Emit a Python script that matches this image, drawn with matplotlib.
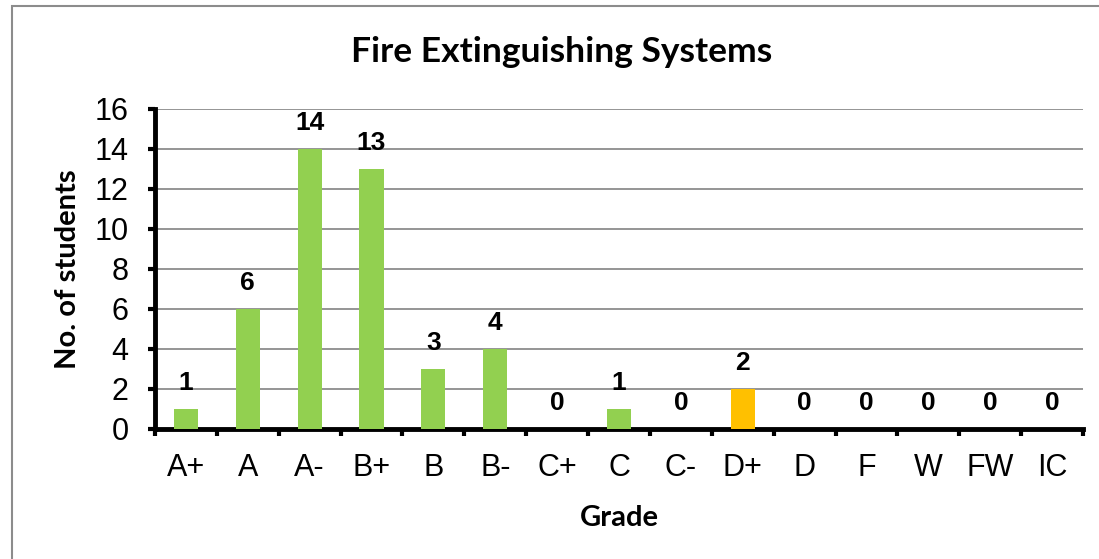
import numpy as np
import matplotlib.pyplot as plt
from matplotlib.patches import Rectangle

grades = ["A+", "A", "A-", "B+", "B", "B-", "C+", "C", "C-", "D+", "D", "F", "W", "FW", "IC"]
students = [1, 6, 14, 13, 3, 4, 0, 1, 0, 2, 0, 0, 0, 0, 0]
bar_colors = ["#92D050"] * 9 + ["#FFC000"] + ["#92D050"] * 5

fig = plt.figure(figsize=(10.99, 5.59), dpi=100)
ax = fig.add_axes([155 / 1099, 1 - 429 / 559, 928 / 1099, 320 / 559])

# outer chart border (cut off at right/bottom)
fig.patches.append(Rectangle((11.5 / 1099, -0.1), 1.2, 1 - 6.5 / 559 + 0.1,
                             transform=fig.transFigure, fill=False,
                             edgecolor="#8c8c8c", linewidth=1.5))

x = np.arange(len(grades))
ax.bar(x, students, width=0.39, color=bar_colors, zorder=3)

for xi, v in zip(x, students):
    ax.annotate(str(v), (xi, v), xytext=(0, 19), textcoords="offset points",
                ha="center", va="center", fontsize=19, fontweight="bold",
                family="Liberation Sans")

ax.set_xlim(-0.5, len(grades) - 0.5)
ax.set_ylim(0, 16)
ax.set_yticks(range(0, 17, 2))
ax.yaxis.grid(True, color="#8c8c8c", linewidth=1.3, zorder=0)
ax.set_axisbelow(True)

ax.set_xticks(x)
ax.set_xticklabels(grades, family="Liberation Sans", fontsize=22)
ax.set_xticks(np.arange(-0.5, len(grades), 1), minor=True)
ax.tick_params(axis="x", which="major", length=0, pad=17)
ax.tick_params(axis="x", which="minor", length=5, width=3, direction="out")
ax.tick_params(axis="y", length=5, width=3, pad=14, labelsize=22)
for lbl in ax.get_yticklabels():
    lbl.set_family("Liberation Sans")

for s in ["top", "right"]:
    ax.spines[s].set_visible(False)
ax.spines["left"].set_linewidth(3.5)
ax.spines["bottom"].set_linewidth(3.5)

ax.set_xlabel("Grade", family="Lato", fontweight="bold", fontsize=21, labelpad=16)
ax.set_ylabel("No. of students", family="Lato", fontweight="bold", fontsize=21, labelpad=10)
fig.text(562 / 1099, 1 - 52 / 559, "Fire Extinguishing Systems", family="Lato",
         fontweight="bold", fontsize=25.5, ha="center", va="center")

fig.savefig("out.png", dpi=100)
